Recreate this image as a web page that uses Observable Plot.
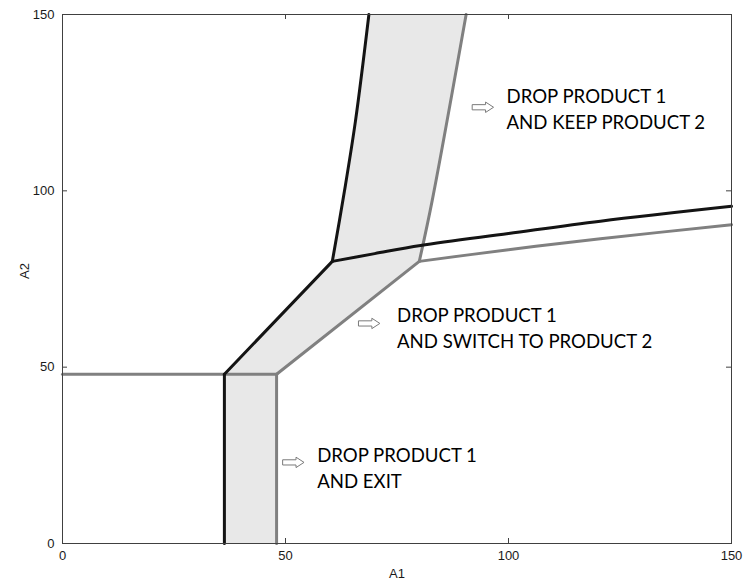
<!DOCTYPE html>
<html><head><meta charset="utf-8">
<script src="https://cdn.jsdelivr.net/npm/d3@7"></script>
<script src="https://cdn.jsdelivr.net/npm/@observablehq/plot@0.6"></script>
<style>body{margin:0;background:#fff} svg{display:block;background:#fff}</style>
</head><body><div id="chart"></div>
<script>
// ---- data ----
const xTicks = [0, 50, 100, 150];
const yTicks = [0, 50, 100, 150];

// black boundary
const blackVertical = [[36.3, 0], [36.3, 48]];
const blackDiagonal = [[36.3, 48], [60.5, 80]];
const blackUpper    = [[60.5, 80], [63.2, 99.8], [65.7, 119.9], [68.7, 150]];
const blackRight    = [[60.5, 80], [70, 82.2], [80.3, 84.5], [100, 87.9], [120.6, 91.4], [150, 95.6]];

// gray boundary
const grayHorizontal = [[0, 48], [48, 48]];
const grayVertical   = [[48, 0], [48, 48]];
const grayDiagonal   = [[48, 48], [80, 80]];
const grayUpper      = [[80, 80], [82.9, 97.3], [90.5, 150]];
const grayRight      = [[80, 80], [100, 83.3], [120.6, 86.4], [150, 90.4]];

const labelTexts = ["DROP PRODUCT 1\nAND KEEP PRODUCT 2", "DROP PRODUCT 1\nAND SWITCH TO PRODUCT 2", "DROP PRODUCT 1\nAND EXIT"];
const labelX = [99.55, 75.0, 57.1];
const labelY = [123.5, 61.5, 21.8];
const arrowX = [94.3, 68.8, 51.8];
const arrowY = [123.7, 62.4, 23.0];

// ---- build tables ----
const toRows = (segs) => segs.flatMap(([name, pts]) => pts.map(([x, y]) => ({x, y, seg: name})));
const blackRows = toRows([["v", blackVertical], ["d", blackDiagonal], ["u", blackUpper], ["r", blackRight]]);
const grayRows = toRows([["h", grayHorizontal], ["v", grayVertical], ["d", grayDiagonal], ["u", grayUpper], ["r", grayRight]]);

// shaded band between black and gray boundaries
const bandLeft = [blackVertical[0], blackVertical[1], blackDiagonal[1], ...blackUpper.slice(1)];
const bandRight = [grayVertical[0], grayVertical[1], grayDiagonal[1], ...grayUpper.slice(1)];
const bandPoly = [...bandLeft, ...bandRight.slice().reverse()].map(([x, y]) => ({x, y}));

const labels = labelTexts.map((t, i) => ({text: t, x: labelX[i], y: labelY[i]}));
const arrows = arrowX.map((x, i) => ({x, y: arrowY[i]}));

const W = 745, H = 586;
const mL = 62, mR = 14, mT = 14, mB = 43;
const iw = W - mL - mR, ih = H - mT - mB;
const tk = 5;

const hollowArrow = {
  draw(context, l) {
    const s = 2.6, h = 5.2, k = 8;
    context.moveTo(-s, 0);
    context.lineTo(-s, -(l - k));
    context.lineTo(-h, -(l - k));
    context.lineTo(0, -l);
    context.lineTo(h, -(l - k));
    context.lineTo(s, -(l - k));
    context.lineTo(s, 0);
    context.closePath();
  }
};

const frameColor = "#404040";

const chart = Plot.plot({
  width: W, height: H,
  marginLeft: mL, marginRight: mR, marginTop: mT, marginBottom: mB,
  style: {background: "#fff", fontFamily: "Liberation Sans, Arial, sans-serif"},
  x: {domain: [0, 150], ticks: xTicks},
  y: {domain: [0, 150], ticks: yTicks},
  marks: [
    Plot.line(bandPoly, {x: "x", y: "y", fill: "#e8e8e8", stroke: "none", curve: "linear-closed"}),
    Plot.line(grayRows, {x: "x", y: "y", z: "seg", stroke: "#808080", strokeWidth: 3, curve: "catmull-rom"}),
    Plot.line(blackRows, {x: "x", y: "y", z: "seg", stroke: "#141414", strokeWidth: 3, curve: "catmull-rom"}),
    Plot.frame({stroke: frameColor, strokeWidth: 1}),
    Plot.tickX(xTicks, {x: d => d, insetTop: ih - tk, stroke: frameColor}),
    Plot.tickX(xTicks, {x: d => d, insetBottom: ih - tk, stroke: frameColor}),
    Plot.tickY(yTicks, {y: d => d, insetRight: iw - tk, stroke: frameColor}),
    Plot.tickY(yTicks, {y: d => d, insetLeft: iw - tk, stroke: frameColor}),
    Plot.axisX(xTicks, {tickSize: 0, tickPadding: 7, fontSize: 13, label: null, fill: "#1a1a1a"}),
    Plot.axisY(yTicks, {tickSize: 0, tickPadding: 8, fontSize: 13, label: null, fill: "#1a1a1a"}),
    Plot.text(["A1"], {text: d => d, frameAnchor: "bottom", dy: 34, fontSize: 13, fill: "#1a1a1a"}),
    Plot.text(["A2"], {text: d => d, frameAnchor: "left", dx: -38, rotate: -90, fontSize: 13, fill: "#1a1a1a"}),
    Plot.vector(arrows, {x: "x", y: "y", rotate: 90, length: 21, anchor: "middle", shape: hollowArrow, stroke: "#7a7a7a", fill: "#fff", strokeWidth: 1}),
    Plot.text(labels, {x: "x", y: "y", text: "text", textAnchor: "start", lineAnchor: "middle", lineHeight: 1.38, fontSize: 18.6, fontFamily: "Lato", fill: "#000"})
  ]
});
document.getElementById("chart").appendChild(chart);
</script>
</body></html>
